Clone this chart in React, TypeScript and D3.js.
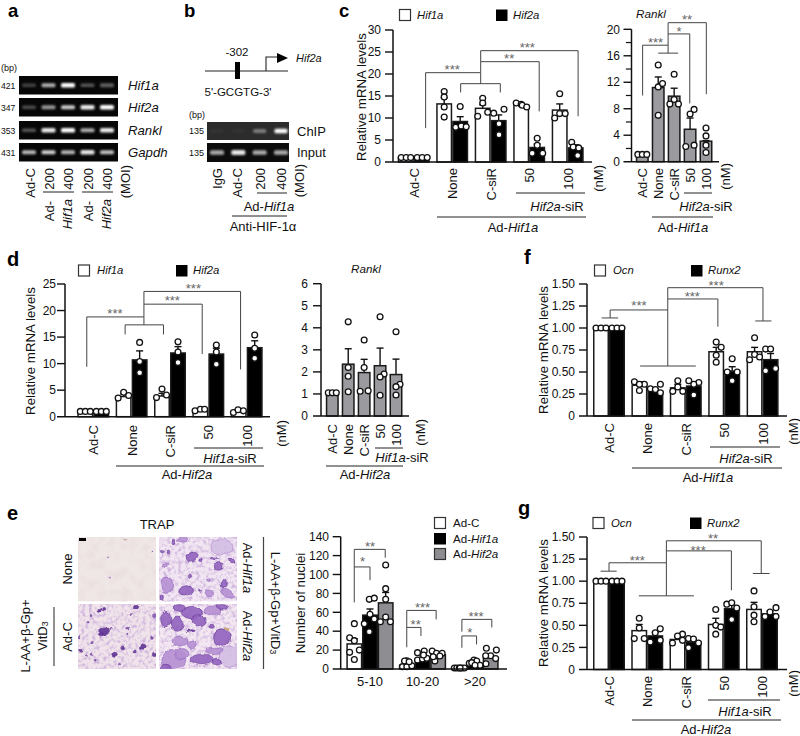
import React from "react";
import * as d3 from "d3";

type Pt = [number, number];
type Blob = [number, number, number, number, number, number];

// ---------- panel c ----------
const cGroups = ["Ad-C", "None", "C-siR", "50", "100"];
const cHif1aMeans = [1, 13.2, 12.2, 13, 11.8];
const cHif1aErrs = [0.05, 1.4, 0.8, 0.3, 1.4];
const cHif1aPoints: Pt[][] = [
  [[1, -4.5], [1, 0.5], [1, 5]],
  [[16, 0], [14.8, 0], [12.5, 0], [10.2, 0]],
  [[14.5, 0], [13.4, 0], [10.4, -5], [11.3, 5]],
  [[13.4, -5], [13.1, 0], [12.9, 1], [12.5, 5.5]],
  [[15.5, 0], [10, -5], [11, 0], [11, 5.5]],
];
const cHif2aMeans = [1, 9.2, 9.4, 3.3, 3.2];
const cHif2aErrs = [0.05, 1.1, 1.3, 0.8, 0.7];
const cHif2aPoints: Pt[][] = [
  [[1, -4.5], [1, 0.5], [1, 5.5]],
  [[12.6, 0], [7.9, -4.5], [8.2, 1], [8, 6]],
  [[11.1, -5], [12, 5.3], [8.7, 0.3], [6.2, 0.3]],
  [[5.4, 0], [3.8, 0], [2, -5], [2, 5.5]],
  [[4.5, -4], [3.4, -2.5], [3.2, 3], [1.5, 2]],
];
const cBrackets: Pt[][] = [
  [[0.31, 7.7], [0.31, 20.3], [1.74, 20.3], [1.74, 17.8]],
  [[1.22, 15.8], [1.22, 17.8], [2.25, 17.8], [2.25, 15.8]],
  [[1.74, 20.3], [1.74, 22.8], [3.26, 22.8], [3.26, 11.5]],
  [[1.74, 22.8], [1.74, 25.3], [4.27, 25.3], [4.27, 10.4]],
];
const cStars: [number, number, string][] = [[1.0, 21.7, "***"], [2.48, 24, "**"], [2.95, 26.5, "***"]];

const cRanklGroups = ["Ad-C", "None", "C-siR", "50", "100"];
const cRanklMeans = [1, 11.2, 9.9, 4.9, 3.1];
const cRanklErrs = [0.1, 1.6, 1.2, 1.7, 0.1];
const cRanklPoints: Pt[][] = [
  [[1.1, -4.5], [1.1, 0], [1.1, 4.5]],
  [[14.6, 0], [11.3, 0], [11.8, 4.3], [7, 0]],
  [[13.2, 0], [9.4, 0], [8.7, -4.3], [8.7, 4.3]],
  [[7.9, 4], [7.2, 0], [2.3, -4.3], [2.5, 4]],
  [[5.1, 0], [3.9, 0], [2.5, 0], [1.4, 0]],
];
const cRanklBrackets: Pt[][] = [
  [[0.02, 10], [0.02, 17.6], [1.62, 17.6], [1.62, 16.4]],
  [[1, 16.4], [2.25, 16.4]],
  [[1.62, 17.6], [1.62, 19.3], [2.98, 19.3], [2.98, 8.8]],
  [[1.62, 19.3], [1.62, 21], [4.02, 21], [4.02, 10.2]],
];
const cRanklStars: [number, number, string][] = [[0.83, 18.4, "***"], [2.31, 20, "*"], [2.81, 21.8, "**"]];

// ---------- panel d ----------
const dGroups = ["Ad-C", "None", "C-siR", "50", "100"];
const dHif1aMeans = [1, 3.8, 3.9, 1.2, 1];
const dHif1aErrs = [0.05, 0.5, 0.5, 0.15, 0.15];
const dHif1aPoints: Pt[][] = [
  [[1, -5], [1, 0], [1, 5]],
  [[3.5, -5.5], [4.6, 0], [4, 5]],
  [[3.6, -5.5], [5.2, 0], [4.1, 4.5]],
  [[1.1, -5.3], [1.4, 0], [1.4, 4.3]],
  [[0.8, -5.3], [1.3, -0.7], [1.1, 4.7]],
];
const dHif2aMeans = [1, 10.7, 12, 11.8, 13];
const dHif2aErrs = [0.05, 1.7, 1.2, 1.1, 1.3];
const dHif2aPoints: Pt[][] = [
  [[1, -5], [1, 0], [1, 5]],
  [[14, 0], [10.4, 0], [8.3, 0]],
  [[14.1, 0], [12.2, 0], [10.2, 0]],
  [[13.5, 0], [12.2, 0], [9.9, 0]],
  [[15.4, 0], [12.9, 0], [11, 0]],
];
const dBrackets: Pt[][] = [
  [[-0.17, 9.4], [-0.17, 18.8], [1.32, 18.8], [1.32, 17.3]],
  [[0.83, 15.5], [0.83, 17.3], [1.83, 17.3], [1.83, 15.5]],
  [[1.32, 18.8], [1.32, 21.2], [2.84, 21.2], [2.84, 11.8]],
  [[1.32, 21.2], [1.32, 23.6], [3.84, 23.6], [3.84, 8.9]],
];
const dStars: [number, number, string][] = [[0.565, 20, "***"], [2.06, 22.3, "***"], [2.61, 24.6, "***"]];

const dRanklGroups = ["Ad-C", "None", "C-siR", "50", "100"];
const dRanklMeans = [1, 2.35, 1.97, 2.28, 1.88];
const dRanklErrs = [0.05, 0.7, 0.6, 0.8, 0.7];
const dRanklPoints: Pt[][] = [
  [[1.05, -4], [1.05, 0], [1.05, 4]],
  [[4.27, 0], [2.2, 0], [1.8, 0], [1.1, 0]],
  [[3.45, 0], [2.2, 0], [1.12, -4], [1.14, 4]],
  [[4.5, 0], [1.9, 4], [1.77, 0], [0.94, 0]],
  [[3.82, 0], [1.44, 4], [1.33, 0], [0.95, 0]],
];

// ---------- panel f ----------
const fGroups = ["Ad-C", "None", "C-siR", "50", "100"];
const fOcnMeans = [1, 0.35, 0.32, 0.73, 0.73];
const fOcnErrs = [0.005, 0.04, 0.04, 0.05, 0.05];
const fOcnPoints: Pt[][] = [
  [[1, -5], [1, 0], [1, 5]],
  [[0.39, -5], [0.29, 0], [0.36, 5], [0.36, 0]],
  [[0.28, -5], [0.4, 0], [0.33, 0], [0.28, 5]],
  [[0.84, 0], [0.61, 0], [0.78, 5], [0.69, 0]],
  [[0.89, 0], [0.64, -5], [0.7, 0], [0.67, 5]],
];
const fRunx2Means = [1, 0.28, 0.34, 0.51, 0.64];
const fRunx2Errs = [0.005, 0.03, 0.05, 0.05, 0.07];
const fRunx2Points: Pt[][] = [
  [[1, -5], [1, 0], [1, 5]],
  [[0.31, -5], [0.3, 0], [0.36, 5], [0.265, 5]],
  [[0.4, -5], [0.24, 0], [0.38, 5], [0.36, 0]],
  [[0.65, 0], [0.4, 0], [0.5, -5], [0.5, 5]],
  [[0.76, -5], [0.76, 0], [0.515, -5], [0.54, 5]],
];
const fBrackets: Pt[][] = [
  [[-0.19, 1.114], [0.24, 1.114]],
  [[0.03, 1.114], [0.03, 1.205], [1.53, 1.205], [1.53, 0.568]],
  [[0.81, 0.568], [2.26, 0.568]],
  [[1.53, 1.205], [1.53, 1.33], [2.835, 1.33], [2.835, 1.015]],
  [[1.53, 1.33], [1.53, 1.458], [4.01, 1.458], [4.01, 1.08]],
  [[3.81, 1.08], [4.23, 1.08]],
];
const fStars: [number, number, string][] = [[0.78, 1.288, "***"], [2.17, 1.383, "***"], [2.79, 1.515, "***"]];

// ---------- panel g ----------
const gGroups = ["Ad-C", "None", "C-siR", "50", "100"];
const gOcnMeans = [1, 0.44, 0.34, 0.51, 0.68];
const gOcnErrs = [0.005, 0.07, 0.03, 0.07, 0.08];
const gOcnPoints: Pt[][] = [
  [[1, -5], [1, 0], [1, 5]],
  [[0.58, 0], [0.47, 0], [0.35, -5], [0.35, 5]],
  [[0.4, 5], [0.38, 0], [0.3, -5], [0.33, 5]],
  [[0.68, 0], [0.5, 0], [0.48, 5], [0.4, 0]],
  [[0.89, 0], [0.71, 0], [0.615, 0], [0.54, 0]],
];
const gRunx2Means = [1, 0.38, 0.31, 0.69, 0.63];
const gRunx2Errs = [0.005, 0.04, 0.02, 0.04, 0.03];
const gRunx2Points: Pt[][] = [
  [[1, -5], [1, 0], [1, 5]],
  [[0.415, 0], [0.46, 5], [0.31, -5], [0.33, 5]],
  [[0.35, -5], [0.345, 0], [0.245, -5], [0.3, 5]],
  [[0.74, -5], [0.755, 0], [0.695, 5], [0.565, 0]],
  [[0.7, 6], [0.65, 0], [0.6, -5], [0.6, 6]],
];
const gBrackets: Pt[][] = [
  [[-0.22, 1.113], [0.2, 1.113]],
  [[0, 1.113], [0, 1.208], [1.5, 1.208], [1.5, 0.834]],
  [[0.78, 0.834], [2.22, 0.834]],
  [[1.5, 1.208], [1.5, 1.343], [3.2, 1.343], [3.2, 0.898]],
  [[1.5, 1.343], [1.5, 1.457], [3.98, 1.457], [3.98, 1.087]],
  [[3.76, 1.087], [4.2, 1.087]],
];
const gStars: [number, number, string][] = [[0.74, 1.257, "***"], [2.33, 1.38, "***"], [2.72, 1.513, "**"]];

// ---------- panel e ----------
const eGroups = ["5-10", "10-20", ">20"];
const eAdCMeans = [26.5, 4, 0.8];
const eAdCErrs = [5.5, 1.2, 0.2];
const eAdCPoints: Pt[][] = [
  [[33, -4.7], [48, 0], [30, 0], [17.6, -4.7], [20, 5], [10, 0]],
  [[2.5, -4.3], [8.8, 0], [2.5, 0], [3.5, 5], [8.5, -2.3], [7.7, 2.3]],
  [[1, -5], [1, -2.5], [1, 0], [1, 2.5], [1, 5], [1, 0.8]],
];
const eHif1aMeans = [57, 10.5, 5.5];
const eHif1aErrs = [6.5, 2, 1.5];
const eHif1aPoints: Pt[][] = [
  [[73.7, -0.7], [75, 4.3], [58, 0], [48, -5.7], [53, 4.3], [39.5, -0.7]],
  [[17.3, -5], [19, 1.7], [9.5, -5], [10.6, 0], [11.3, 4.3], [14.8, 1]],
  [[6, -5.7], [9.5, -1], [8.5, 1.7], [4, 5], [6.7, -3.3], [4, 0]],
];
const eHif2aMeans = [70, 15, 12];
const eHif2aErrs = [11, 1.5, 2.5];
const eHif2aPoints: Pt[][] = [
  [[110, 0], [85, 0], [73.7, 0], [55, 0], [50, -5.3], [50, 4.7]],
  [[19, -6], [16.6, -1.7], [16.6, 4], [13.8, 1.7], [8.5, -3.3], [13, -5]],
  [[22, -4.3], [20, 5.7], [14, 0], [11, 5], [5.6, -4.7], [14, -5]],
];
const eBrackets: Pt[][] = [
  [[-0.3, 70.5], [-0.3, 126.6], [0.29, 126.6], [0.29, 117.8]],
  [[-0.3, 108], [0, 108], [0, 94]],
  [[0.7, 23], [0.7, 62], [1.26, 62], [1.26, 52.5]],
  [[0.7, 44], [0.97, 44], [0.97, 35]],
  [[1.75, 39.5], [1.75, 52.5], [2.32, 52.5], [2.32, 44]],
  [[1.75, 22.5], [1.75, 35], [2.03, 35], [2.03, 26]],
];
const eStars: [number, number, string][] = [
  [0, 131.9, "**"], [-0.14, 116, "*"], [1, 67.7, "***"], [0.87, 50, "**"], [2.02, 57.8, "***"], [1.9, 41, "*"],
];

// ---------- gels ----------
const gelLanesA = [0, 1, 2, 3, 4];
const gelHif1a = [0.24, 0.68, 1, 0.32, 0.36];
const gelHif2a = [0.28, 0.58, 0.8, 0.92, 1];
const gelRankl = [0.32, 0.92, 1, 0.68, 0.92];
const gelGapdh = [0.72, 0.82, 0.7, 0.9, 0.76];
const gelRows = [
  { name: "Hif1a", bp: "421", bands: gelHif1a },
  { name: "Hif2a", bp: "347", bands: gelHif2a },
  { name: "Rankl", bp: "353", bands: gelRankl },
  { name: "Gapdh", bp: "431", bands: gelGapdh },
];
const gelChip = [0.04, 0.03, 0.38, 1];
const gelInput = [0.65, 0.9, 0.65, 0.65];

// ---------- TRAP micrograph texture: [x, y, rx, ry, angle, shade] in zoom pixels ----------
const shades = ["#5b2d91", "#9060bd", "#b48fd2", "#d3bde4", "#c8a050"];
const trapTopLeft: Blob[] = [[90, 58, 2, 2, 0, 2], [222, 45, 2, 2, 0, 1], [96, 122, 2, 2, 0, 2], [140, 8, 6, 2, 0, 4]];
const trapTopRight: Blob[] = [
  [190, 28, 33, 25, 10, 3], [100, 58, 19, 13, -30, 1], [70, 8, 14, 7, 0, 2], [180, 90, 10, 10, 0, 1], [25, 145, 19, 24, -10, 2],
  [80, 162, 21, 14, -20, 1], [150, 168, 14, 8, 0, 2], [205, 170, 22, 10, 30, 2], [30, 45, 6, 6, 0, 1], [10, 40, 5, 5, 0, 1],
  [95, 120, 6, 5, 0, 1], [20, 85, 7, 4, 0, 2], [165, 65, 11, 4, 0, 1], [220, 72, 10, 5, 0, 1], [195, 142, 8, 11, 0, 1],
  [125, 70, 5, 4, 0, 1], [8, 178, 5, 9, 0, 1], [45, 15, 4, 9, 20, 1], [150, 130, 5, 4, 0, 2], [120, 160, 4, 3, 0, 1],
];
const trapBottomLeft: Blob[] = [
  [80, 78, 15, 12, -25, 0], [68, 90, 6, 5, 0, 0], [175, 8, 8, 7, 0, 0], [65, 20, 5, 5, 0, 0], [76, 18, 4, 5, 0, 0],
  [38, 35, 4, 4, 0, 1], [135, 128, 6, 6, 0, 0], [195, 127, 10, 8, 0, 0], [110, 150, 8, 6, 0, 0], [5, 100, 3, 6, 0, 1],
  [40, 112, 3, 3, 0, 1], [220, 105, 4, 3, 0, 1], [150, 75, 3, 3, 0, 1], [30, 55, 3, 3, 0, 1], [230, 152, 6, 5, 0, 0],
  [10, 140, 5, 4, 0, 0], [172, 140, 3, 3, 0, 0], [228, 35, 3, 6, 0, 1], [160, 32, 3, 3, 0, 1], [100, 70, 3, 3, 0, 1],
  [25, 155, 3, 3, 0, 1], [55, 165, 3, 3, 0, 1], [150, 95, 3, 3, 0, 1], [40, 150, 3, 3, 0, 1], [125, 180, 3, 3, 0, 1],
];
const trapBottomRight: Blob[] = [
  [60, 10, 17, 11, 0, 1], [100, 25, 31, 20, 10, 1], [20, 45, 15, 23, 0, 1], [55, 60, 21, 21, 0, 1], [118, 50, 21, 15, 0, 1],
  [160, 20, 26, 14, 0, 2], [190, 10, 20, 8, 0, 1], [65, 110, 23, 15, 0, 2], [100, 122, 15, 14, 0, 2], [190, 100, 25, 26, 20, 1],
  [212, 157, 30, 32, -20, 3], [45, 165, 36, 30, 0, 2], [70, 148, 20, 15, 0, 2], [130, 165, 33, 16, 0, 1], [165, 140, 25, 8, 0, 2],
  [175, 172, 16, 10, 0, 1], [20, 190, 16, 10, 0, 1], [95, 80, 14, 3, 0, 0], [160, 65, 10, 4, 0, 1], [205, 75, 9, 4, 30, 4],
];

const FONT = "'Liberation Sans', Arial, sans-serif";
const BRACKET = "#444";
const STAR = "#666";

function Rich({ s }: { s: string }) {
  const parts = s.split("_");
  return <>{parts.map((p, i) => (i % 2 ? <tspan key={i} fontStyle="italic">{p}</tspan> : <tspan key={i}>{p}</tspan>))}</>;
}

function T({ x, y, s, size = 13, anchor = "start", weight, fill = "#111" }: any) {
  return (
    <text x={x} y={y} fontSize={size} textAnchor={anchor} fontWeight={weight} fill={fill}>
      <Rich s={s} />
    </text>
  );
}

function V({ x, y, s, size = 13, anchor = "end", rot = -90, fill = "#111" }: any) {
  return (
    <text transform={`translate(${x},${y}) rotate(${rot})`} fontSize={size} textAnchor={anchor} dominantBaseline="central" fill={fill}>
      <Rich s={s} />
    </text>
  );
}

function Line({ x1, y1, x2, y2, w = 1, c = "#222" }: any) {
  return <line x1={x1} y1={y1} x2={x2} y2={y2} stroke={c} strokeWidth={w} />;
}

type Series = { name: string; fill: string; means: number[]; errs: number[]; points: Pt[][] };

function BarPanel(p: {
  axisX: number; xEnd: number; y0: number; yTop: number; max: number; ticks: number[]; minor?: number[];
  fmt: (v: number) => string; c0: number; c1: number; band: number; barW: number; groups: string[]; series: Series[];
  brackets?: Pt[][]; stars?: [number, number, string][]; labelTop?: number; labelSize?: number; tickEnd: number; tickLen?: number;
}) {
  const y = d3.scaleLinear([0, p.max], [p.y0, p.yTop]);
  const gx = d3.scaleLinear([0, p.groups.length - 1], [p.c0, p.c1]);
  const sx = d3.scaleBand(p.series.map((s) => s.name), [-p.band / 2, p.band / 2]);
  const line = d3.line<Pt>().x((d) => gx(d[0])).y((d) => y(d[1]));
  const tl = p.tickLen ?? 8;
  return (
    <g>
      {p.series.map((s) => {
        const off = (sx(s.name) ?? 0) + sx.bandwidth() / 2;
        return (
          <g key={s.name}>
            {s.means.map((m, i) => {
              const cx = gx(i) + off;
              return (
                <g key={i}>
                  <Line x1={cx} x2={cx} y1={y(m)} y2={y(m + s.errs[i])} w={1.4} c="#111" />
                  <Line x1={cx - 3.5} x2={cx + 3.5} y1={y(m + s.errs[i])} y2={y(m + s.errs[i])} w={1.4} c="#111" />
                  <rect x={cx - p.barW / 2} y={y(m)} width={p.barW} height={p.y0 - y(m)} fill={s.fill} stroke="#1a1a1a" strokeWidth={1.5} />
                </g>
              );
            })}
          </g>
        );
      })}
      {p.series.map((s) => {
        const off = (sx(s.name) ?? 0) + sx.bandwidth() / 2;
        return (
          <g key={s.name + "p"}>
            {s.points.map((pts, i) =>
              pts.map(([v, j], k) => (
                <circle key={`${i}-${k}`} cx={gx(i) + off + j} cy={y(v)} r={2.9} fill="#fff" stroke="#111" strokeWidth={1.3} />
              ))
            )}
          </g>
        );
      })}
      <Line x1={p.axisX} x2={p.axisX} y1={p.y0} y2={p.yTop} w={1.5} c="#111" />
      <Line x1={p.axisX - tl} x2={p.xEnd} y1={p.y0} y2={p.y0} w={1.5} c="#111" />
      {p.ticks.filter((t) => t > 0).map((t) => (
        <Line key={t} x1={p.axisX - tl} x2={p.axisX} y1={y(t)} y2={y(t)} w={1.4} c="#111" />
      ))}
      {(p.minor ?? []).map((t) => (
        <Line key={t} x1={p.axisX - tl * 0.7} x2={p.axisX} y1={y(t)} y2={y(t)} w={1.2} c="#111" />
      ))}
      {p.ticks.map((t) => (
        <text key={t} x={p.tickEnd} y={y(t) + 4.2} fontSize={12} textAnchor="end" fill="#111">{p.fmt(t)}</text>
      ))}
      {p.labelTop !== undefined &&
        p.groups.map((g, i) => <V key={g} x={gx(i)} y={p.labelTop} s={g} size={p.labelSize ?? 13} />)}
      {(p.brackets ?? []).map((b, i) => (
        <path key={i} d={line(b) ?? ""} fill="none" stroke={BRACKET} strokeWidth={1} />
      ))}
      {(p.stars ?? []).map(([g, v, s], i) => (
        <text key={i} x={gx(g)} y={y(v) + 7} fontSize={13} textAnchor="middle" fill={STAR}>{s}</text>
      ))}
    </g>
  );
}

function Gel({ x, y, w, h, bg, lanes, bands, bw = 14, bh = 3.4 }: any) {
  return (
    <g>
      <rect x={x} y={y} width={w} height={h} fill={bg} />
      {bands.map((b: number, i: number) => (
        <rect key={i} x={lanes[i] - bw / 2} y={y + h / 2 - bh / 2 - 0.5 * b} width={bw} height={bh + b} rx={1.5}
          fill="#fff" opacity={Math.min(1, b)} filter="url(#blurGel)" />
      ))}
    </g>
  );
}

function Trap({ x, y, w, h, bg, blobs, speck, id }: any) {
  const kx = d3.scaleLinear([0, 235], [x, x + w]);
  const ky = d3.scaleLinear([0, 194], [y, y + h]);
  return (
    <g>
      <clipPath id={id}><rect x={x} y={y} width={w} height={h} /></clipPath>
      <g clipPath={`url(#${id})`}>
        <rect x={x} y={y} width={w} height={h} fill={bg} />
        {speck && <rect x={x} y={y} width={w} height={h} filter={`url(#${speck})`} />}
        <g filter="url(#blurTrap)">
          {blobs.map(([bx, by, rx, ry, a, c]: Blob, i: number) => (
            <ellipse key={i} cx={kx(bx)} cy={ky(by)} rx={rx / 3} ry={ry / 3} fill={shades[c]} stroke={shades[Math.max(0, c - 1)]} strokeWidth={0.7}
              opacity={0.88} transform={`rotate(${a},${kx(bx)},${ky(by)})`} />
          ))}
        </g>
      </g>
    </g>
  );
}

function Legend2({ x1, tx1, x2, tx2, y, base, a, b }: any) {
  return (
    <g>
      <rect x={x1} y={y} width={11} height={11} fill="#fff" stroke="#333" strokeWidth={1.2} />
      <T x={tx1} y={base} s={`_${a}_`} size={11.3} />
      <rect x={x2} y={y} width={11.5} height={11.5} fill="#000" />
      <T x={tx2} y={base} s={`_${b}_`} size={11.3} />
    </g>
  );
}

const fmtInt = (v: number) => String(v);
const fmt2 = d3.format(".2f");

export default function App() {
  const laneA = gelLanesA.map((i) => d3.scaleLinear([0, 4], [29, 107])(i));
  const laneB = d3.scaleLinear([0, 3], [217, 281]);
  const lanesB = [0, 1, 2, 3].map((i) => laneB(i));
  const gelTops = [76, 98, 121, 143];

  return (
    <svg width={800} height={736} viewBox="0 0 800 736" style={{ position: "absolute", left: 0, top: 0, display: "block", background: "#fff" }} fontFamily={FONT}>
      <defs>
        <filter id="blurGel" x="-20%" y="-100%" width="140%" height="300%"><feGaussianBlur stdDeviation="0.8" /></filter>
        <filter id="blurTrap" x="0" y="0" width="100%" height="100%">
          <feTurbulence type="fractalNoise" baseFrequency="0.09" numOctaves="2" seed="7" result="n" />
          <feDisplacementMap in="SourceGraphic" in2="n" scale="6" xChannelSelector="R" yChannelSelector="G" result="d" />
          <feGaussianBlur in="d" stdDeviation="0.6" />
        </filter>
        <filter id="speckLight" x="0" y="0" width="100%" height="100%">
          <feTurbulence type="fractalNoise" baseFrequency="0.1" numOctaves="2" seed="4" />
          <feColorMatrix values="0 0 0 0 0.78  0 0 0 0 0.68  0 0 0 0 0.68  1.2 0 0 0 -0.5" />
        </filter>
        <filter id="speckPurple" x="0" y="0" width="100%" height="100%">
          <feTurbulence type="fractalNoise" baseFrequency="0.28" numOctaves="2" seed="9" />
          <feColorMatrix values="0 0 0 0 0.6  0 0 0 0 0.42  0 0 0 0 0.72  2.6 0 0 0 -1.15" />
        </filter>
      </defs>

      {/* panel letters */}
      <T x={8} y={16.5} s="a" size={18.5} weight="bold" fill="#000" />
      <T x={184} y={16.5} s="b" size={18.5} weight="bold" fill="#000" />
      <T x={339} y={16.5} s="c" size={18.5} weight="bold" fill="#000" />
      <T x={7} y={266} s="d" size={20} weight="bold" fill="#000" />
      <T x={7} y={520} s="e" size={20} weight="bold" fill="#000" />
      <T x={524} y={264} s="f" size={20} weight="bold" fill="#000" />
      <T x={518} y={515} s="g" size={20} weight="bold" fill="#000" />

      {/* panel a */}
      <T x={1} y={71} s="(bp)" size={9} />
      {gelRows.map((r, i) => (
        <g key={r.name}>
          <Gel x={19} y={gelTops[i]} w={99} h={18.5} bg="#070707" lanes={laneA} bands={r.bands} />
          <T x={1} y={gelTops[i] + 12.5} s={r.bp} size={8.6} />
          <T x={128} y={gelTops[i] + 14} s={`_${r.name}_`} size={13.2} />
        </g>
      ))}
      <V x={30} y={168} s="Ad-C" />
      <V x={49} y={168} s="200" />
      <V x={68} y={168} s="400" />
      <V x={88} y={168} s="200" />
      <V x={107} y={168} s="400" />
      <V x={125} y={165} s="(MOI)" />
      <Line x1={43} x2={74} y1={192} y2={192} w={1} />
      <Line x1={82} x2={113} y1={192} y2={192} w={1} />
      <V x={49} y={201} s="Ad-" />
      <V x={67} y={199} s="_Hif1a_" />
      <V x={88} y={201} s="Ad-" />
      <V x={106} y={199} s="_Hif2a_" />

      {/* panel b */}
      <T x={237} y={56} s="-302" size={11.5} anchor="middle" />
      <Line x1={205} x2={288} y1={71} y2={71} w={1.1} c="#222" />
      <rect x={235} y={62} width={5} height={17} fill="#000" />
      <path d="M266 71 V57 H277" fill="none" stroke="#222" strokeWidth={1.1} />
      <path d="M277 53 L288 58 L277 63 Z" fill="#000" />
      <T x={296} y={62} s="_Hif2a_" size={11} />
      <T x={238} y={96} s="5'-GCGTG-3'" size={11.5} anchor="middle" />
      <T x={189} y={118} s="(bp)" size={9} />
      <Gel x={207} y={122} w={82} h={18} bg="#2c2c2c" lanes={lanesB} bands={gelChip} bw={13} />
      <Gel x={207} y={143} w={82} h={19} bg="#0c0c0c" lanes={lanesB} bands={gelInput} bw={14} bh={4} />
      <T x={189} y={134} s="135" size={9} />
      <T x={189} y={156} s="135" size={9} />
      <T x={297} y={136} s="ChIP" size={13} />
      <T x={297} y={157} s="Input" size={13} />
      <V x={217} y={168} s="IgG" />
      <V x={237} y={168} s="Ad-C" />
      <V x={260} y={168} s="200" />
      <V x={281} y={168} s="400" />
      <V x={299} y={164} s="(MOI)" />
      <Line x1={257} x2={287} y1={193} y2={193} />
      <T x={269} y={211} s="Ad-_Hif1a_" anchor="middle" />
      <Line x1={232} x2={287} y1={216} y2={216} />
      <T x={263} y={231} s="Anti-HIF-1α" anchor="middle" />

      {/* panel c main */}
      <Legend2 x1={399.5} tx1={417} x2={496} tx2={513} y={9.5} base={19} a="Hif1a" b="Hif2a" />
      <V x={361} y={97} s="Relative mRNA levels" anchor="middle" size={13.3} />
      <BarPanel axisX={393} xEnd={592} y0={162} yTop={30} max={30} ticks={d3.range(0, 31, 5)} fmt={fmtInt}
        c0={413.7} c1={567.7} band={32} barW={14.5} groups={cGroups} labelTop={168} tickEnd={381}
        series={[
          { name: "Hif1a", fill: "#fff", means: cHif1aMeans, errs: cHif1aErrs, points: cHif1aPoints },
          { name: "Hif2a", fill: "#000", means: cHif2aMeans, errs: cHif2aErrs, points: cHif2aPoints },
        ]} brackets={cBrackets} stars={cStars} />
      <V x={598} y={165} s="(nM)" />
      <Line x1={516} x2={585} y1={193} y2={193} />
      <T x={557} y={211} s="_Hif2a_-siR" anchor="middle" />
      <Line x1={437} x2={586} y1={217} y2={217} />
      <T x={513} y={232} s="Ad-_Hif1a_" anchor="middle" />

      {/* panel c Rankl */}
      <T x={636} y={18} s="_Rankl_" size={11.7} />
      <BarPanel axisX={631.5} xEnd={719} y0={161.7} yTop={29.3} max={20} ticks={[0, 4, 8, 12, 16, 20]} minor={[2, 6, 10, 14, 18]} fmt={fmtInt}
        c0={642.3} c1={706} band={12} barW={11.5} groups={cRanklGroups} labelTop={168} tickEnd={620}
        series={[{ name: "Rankl", fill: "#9a9a9f", means: cRanklMeans, errs: cRanklErrs, points: cRanklPoints }]}
        brackets={cRanklBrackets} stars={cRanklStars} />
      <V x={725} y={163} s="(nM)" />
      <Line x1={684} x2={712} y1={193} y2={193} />
      <T x={706} y={211} s="_Hif2a_-siR" anchor="middle" />
      <Line x1={652} x2={713} y1={217} y2={217} />
      <T x={683} y={232} s="Ad-_Hif1a_" anchor="middle" />

      {/* panel d main */}
      <Legend2 x1={78.5} tx1={97} x2={176} tx2={193} y={265} base={274} a="Hif1a" b="Hif2a" />
      <V x={30} y={351} s="Relative mRNA levels" anchor="middle" size={13.3} />
      <BarPanel axisX={65} xEnd={270} y0={416.7} yTop={284} max={25} ticks={d3.range(0, 26, 5)} fmt={fmtInt}
        c0={93.3} c1={246.7} band={32} barW={14.5} groups={dGroups} labelTop={425} tickEnd={56}
        series={[
          { name: "Hif1a", fill: "#fff", means: dHif1aMeans, errs: dHif1aErrs, points: dHif1aPoints },
          { name: "Hif2a", fill: "#000", means: dHif2aMeans, errs: dHif2aErrs, points: dHif2aPoints },
        ]} brackets={dBrackets} stars={dStars} />
      <V x={281} y={420} s="(nM)" />
      <Line x1={194} x2={263} y1={448} y2={448} />
      <T x={230} y={463} s="_Hif1a_-siR" anchor="middle" />
      <Line x1={116} x2={264} y1={466} y2={466} />
      <T x={187} y={479} s="Ad-_Hif2a_" anchor="middle" />

      {/* panel d Rankl */}
      <T x={351} y={273} s="_Rankl_" size={11.7} />
      <BarPanel axisX={321} xEnd={409} y0={416} yTop={283.7} max={6} ticks={d3.range(0, 7)} fmt={fmtInt}
        c0={332.3} c1={396} band={12} barW={11.5} groups={dRanklGroups} labelTop={424} tickEnd={308}
        series={[{ name: "Rankl", fill: "#9a9a9f", means: dRanklMeans, errs: dRanklErrs, points: dRanklPoints }]} />
      <V x={420} y={419} s="(nM)" />
      <Line x1={375} x2={403} y1={448} y2={448} />
      <T x={402} y={462} s="_Hif1a_-siR" anchor="middle" />
      <Line x1={326} x2={403} y1={466} y2={466} />
      <T x={365} y={479} s="Ad-_Hif2a_" anchor="middle" />

      {/* panel f */}
      <Legend2 x1={594.5} tx1={613} x2={691} tx2={708} y={265} base={274} a="Ocn" b="Runx2" />
      <V x={543} y={350} s="Relative mRNA levels" anchor="middle" size={13.3} />
      <BarPanel axisX={587} xEnd={787} y0={416} yTop={284} max={1.5} ticks={[0, 0.25, 0.5, 0.75, 1, 1.25, 1.5]} fmt={(v) => (v === 0 ? "0" : fmt2(v))}
        c0={609} c1={762.6} band={32} barW={14.5} groups={fGroups} labelTop={423} tickEnd={575}
        series={[
          { name: "Ocn", fill: "#fff", means: fOcnMeans, errs: fOcnErrs, points: fOcnPoints },
          { name: "Runx2", fill: "#000", means: fRunx2Means, errs: fRunx2Errs, points: fRunx2Points },
        ]} brackets={fBrackets} stars={fStars} />
      <V x={793} y={418} s="(nM)" />
      <Line x1={710} x2={780} y1={447} y2={447} />
      <T x={746} y={463} s="_Hif2a_-siR" anchor="middle" />
      <Line x1={632} x2={782} y1={468} y2={468} />
      <T x={708} y={482} s="Ad-_Hif1a_" anchor="middle" />

      {/* panel g */}
      <Legend2 x1={593} tx1={611} x2={690} tx2={707} y={517.5} base={527} a="Ocn" b="Runx2" />
      <V x={543} y={603} s="Relative mRNA levels" anchor="middle" size={13.3} />
      <BarPanel axisX={587} xEnd={787} y0={669.5} yTop={537} max={1.5} ticks={[0, 0.25, 0.5, 0.75, 1, 1.25, 1.5]} fmt={(v) => (v === 0 ? "0" : fmt2(v))}
        c0={609} c1={762} band={32} barW={14.5} groups={gGroups} labelTop={676} tickEnd={575}
        series={[
          { name: "Ocn", fill: "#fff", means: gOcnMeans, errs: gOcnErrs, points: gOcnPoints },
          { name: "Runx2", fill: "#000", means: gRunx2Means, errs: gRunx2Errs, points: gRunx2Points },
        ]} brackets={gBrackets} stars={gStars} />
      <V x={793} y={670} s="(nM)" />
      <Line x1={708} x2={780} y1={700} y2={700} />
      <T x={745} y={716} s="_Hif1a_-siR" anchor="middle" />
      <Line x1={632} x2={781} y1={720} y2={720} />
      <T x={706} y={734} s="Ad-_Hif2a_" anchor="middle" />

      {/* panel e images */}
      <T x={157} y={529} s="TRAP" anchor="middle" />
      <Trap id="t1" x={78} y={537} w={78} h={64.5} bg="#efe6e6" speck="speckLight" blobs={trapTopLeft} />
      <Trap id="t2" x={159} y={537} w={78} h={64.5} bg="#f1e6f1" speck="speckPurple" blobs={trapTopRight} />
      <Trap id="t3" x={78} y={604} w={78} h={65} bg="#f0e4ea" speck="speckPurple" blobs={trapBottomLeft} />
      <Trap id="t4" x={159} y={604} w={78} h={65} bg="#f3e7f1" speck="speckPurple" blobs={trapBottomRight} />
      <rect x={79} y={538} width={7} height={3} fill="#000" />
      <V x={67} y={569} s="None" anchor="middle" />
      <V x={67} y={637} s="Ad-C" anchor="middle" />
      <Line x1={54} x2={54} y1={607} y2={666} />
      <V x={25} y={636} s="L-AA+β-Gp+" anchor="middle" />
      <text transform="translate(42,636) rotate(-90)" fontSize={13} textAnchor="middle" dominantBaseline="central" fill="#111">
        VitD<tspan fontSize={9} dy={3}>3</tspan>
      </text>
      <V x={248} y={568} s="Ad-_Hif1a_" anchor="middle" rot={90} />
      <V x={248} y={636} s="Ad-_Hif2a_" anchor="middle" rot={90} />
      <Line x1={263.5} x2={263.5} y1={537} y2={669} c="#444" w={1.2} />
      <text transform="translate(275.5,603) rotate(90)" fontSize={13} textAnchor="middle" dominantBaseline="central" fill="#111">
        L-AA+β-Gp+VitD<tspan fontSize={9} dy={3}>3</tspan>
      </text>

      {/* panel e bars */}
      <V x={300} y={603} s="Number of nuclei" anchor="middle" size={13.3} />
      <BarPanel axisX={340.7} xEnd={507} y0={669} yTop={536.7} max={140} ticks={d3.range(0, 141, 20)} fmt={fmtInt}
        c0={370} c1={475} band={47} barW={14.5} groups={eGroups} tickEnd={329}
        series={[
          { name: "Ad-C", fill: "#fff", means: eAdCMeans, errs: eAdCErrs, points: eAdCPoints },
          { name: "Ad-Hif1a", fill: "#000", means: eHif1aMeans, errs: eHif1aErrs, points: eHif1aPoints },
          { name: "Ad-Hif2a", fill: "#8e8e92", means: eHif2aMeans, errs: eHif2aErrs, points: eHif2aPoints },
        ]} brackets={eBrackets} stars={eStars} />
      {eGroups.map((g, i) => (
        <T key={g} x={d3.scaleLinear([0, 2], [370, 475])(i)} y={686} s={g} anchor="middle" />
      ))}
      <rect x={434.5} y={517.5} width={11} height={11} fill="#fff" stroke="#333" strokeWidth={1.2} />
      <T x={453} y={527} s="Ad-C" size={11.6} />
      <rect x={434} y={533} width={12} height={11.5} fill="#000" />
      <T x={453} y={542.5} s="Ad-_Hif1a_" size={11.6} />
      <rect x={434.5} y={548.5} width={11} height={11} fill="#8e8e92" stroke="#333" strokeWidth={1.2} />
      <T x={453} y={558} s="Ad-_Hif2a_" size={11.6} />
    </svg>
  );
}
